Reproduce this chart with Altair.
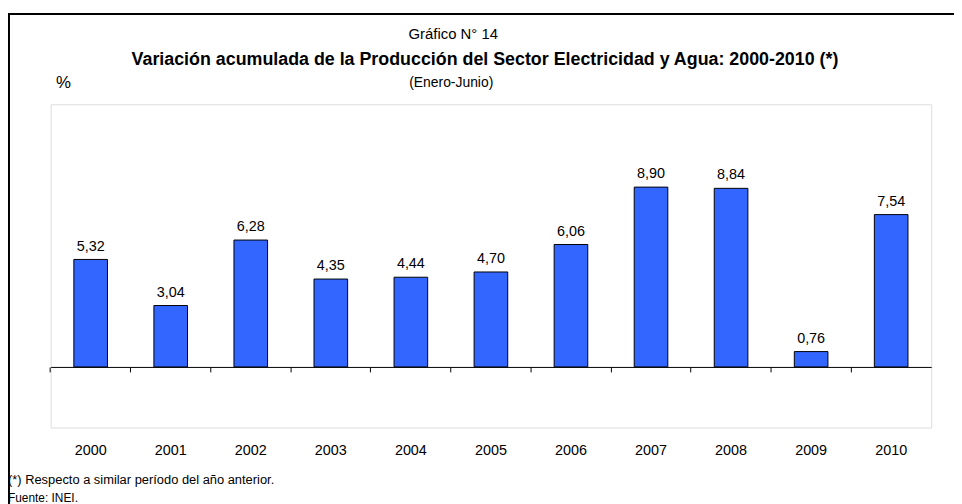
import altair as alt
import pandas as pd

years = ["2000", "2001", "2002", "2003", "2004", "2005", "2006", "2007", "2008", "2009", "2010"]
values = [5.32, 3.04, 6.28, 4.35, 4.44, 4.70, 6.06, 8.90, 8.84, 0.76, 7.54]
labels = [f"{v:.2f}".replace(".", ",") for v in values]

df = pd.DataFrame({"year": years, "value": values, "label": labels})

W, H = 888, 326
SANS = "Liberation Sans"

xscale = alt.Scale(domain=years, paddingInner=0, paddingOuter=0)
yscale = alt.Scale(domain=[-3, 13], nice=False, zero=False)

base = alt.Chart(df)

bars = base.mark_bar(
    color="#3366FF", stroke="black", strokeWidth=1,
    width=alt.RelativeBandSize(0.42),
).encode(
    x=alt.X("year:N", scale=xscale, title=None,
            axis=alt.Axis(ticks=False, domain=False, labelPadding=16, labelAngle=0,
                          labelFont=SANS, labelFontSize=14.5, labelColor="black")),
    y=alt.Y("value:Q", scale=yscale, axis=None),
)

ticks_layer = base.mark_bar(opacity=0).encode(
    x=alt.X("year:N", scale=xscale, title=None,
            axis=alt.Axis(labels=False, ticks=True, tickSize=5, tickColor="black",
                          domain=True, domainColor="black", bandPosition=0,
                          offset=-(3 * H / 16), orient="bottom")),
    y=alt.Y("value:Q", scale=yscale, axis=None),
)

text = base.mark_text(
    baseline="bottom", dy=-6, font=SANS, fontSize=14.5, color="black"
).encode(
    x=alt.X("year:N", scale=xscale, axis=None),
    y=alt.Y("value:Q", scale=yscale, axis=None),
    text="label:N",
)

def label(txt, x, y, size, font=SANS, weight="normal", align="center"):
    return alt.Chart(pd.DataFrame({"t": [txt]})).mark_text(
        font=font, fontSize=size, fontWeight=weight, align=align,
        baseline="middle", color="black"
    ).encode(x=alt.value(x), y=alt.value(y), text="t:N")

# decorative outer frame
frame_left = alt.Chart(pd.DataFrame({"a": [0]})).mark_rule(color="black", strokeWidth=2).encode(
    x=alt.value(-42), y=alt.value(-92), y2=alt.value(H + 80))
frame_top = alt.Chart(pd.DataFrame({"a": [0]})).mark_rule(color="black", strokeWidth=2).encode(
    x=alt.value(-43), x2=alt.value(W + 30), y=alt.value(-91))

annotations = [
    label("Gráfico N° 14", 406, -71, 15),
    label("Variación acumulada de la Producción  del Sector Electricidad y Agua: 2000-2010 (*)", 438, -45, 18, weight="bold"),
    label("%", 13, -21, 17),
    label("(Enero-Junio)", 404, -21, 14),
    label("(*) Respecto a similar período del año anterior.", -43, 379, 13, align="left"),
    label("Fuente: INEI.", -43, 397, 12, align="left"),
]

chart = alt.layer(
    bars, ticks_layer, text, frame_left, frame_top, *annotations
).resolve_axis(x="independent").properties(
    width=W, height=H,
    autosize=alt.AutoSizeParams(type="none"),
    padding={"left": 43, "top": 95, "right": 23, "bottom": 75},
).configure_view(stroke="#999999", strokeWidth=1).configure(background="white")

chart.save("out.html", embed_options={"renderer": "svg", "actions": False})
